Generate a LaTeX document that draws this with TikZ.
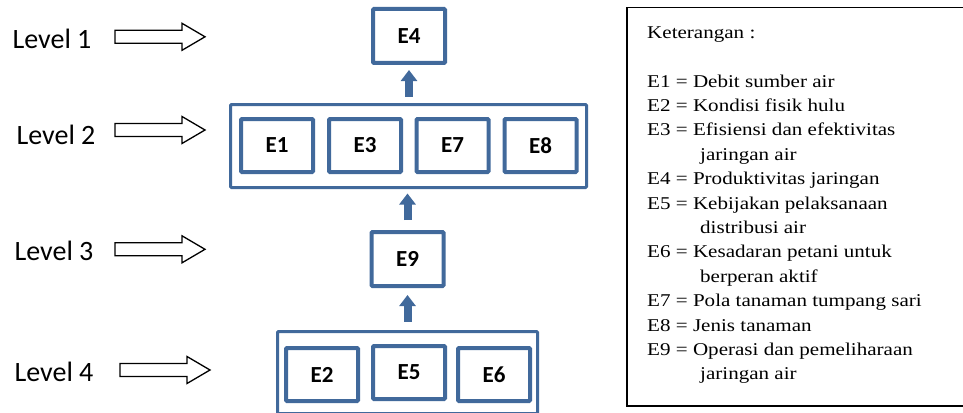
\documentclass[tikz,border=0pt]{standalone}
\usepackage{fontspec}
\setmainfont{Liberation Serif}
\newfontfamily\legfont[FakeStretch=1.17]{Liberation Serif}
\newfontfamily\calib{Carlito}
\usetikzlibrary{arrows.meta}
\definecolor{boxblue}{RGB}{65,105,155}
\tikzset{
  inbox/.style={draw=boxblue, line width=4pt, rounded corners=1pt, minimum width=72pt, minimum height=53pt, inner sep=0pt, font=\calib\bfseries\fontsize{23}{26}\selectfont},
  outbox/.style={draw=boxblue, line width=3pt, rounded corners=1pt, inner sep=0pt},
  lvl/.style={font=\calib\fontsize{28}{32}\selectfont, inner sep=0pt},
  hollow/.style={draw=black, line width=1.3pt, fill=white, line join=miter},
  uparrow/.style={draw=boxblue, line width=8pt, -{Triangle[length=11pt,width=16pt]}},
  legtxt/.style={anchor=base west, inner sep=0pt, font=\legfont\fontsize{18}{22}\selectfont}
}
\newcommand\hollowarrow[1]{%
  \draw[hollow] (#1) ++(0,-6.5) -- ++(67,0) -- ++(0,-7) -- ++(23,13.5) -- ++(-23,13.5) -- ++(0,-7) -- ++(-67,0) -- cycle;}
\begin{document}
\begin{tikzpicture}[x=1pt,y=-1pt]
\useasboundingbox (0,0) rectangle (963,412);
% level labels
\node[lvl] (l1) at (52,39) {Level 1};
\node[lvl] (l2) at (56,135) {Level 2};
\node[lvl] (l3) at (54,251) {Level 3};
\node[lvl] (l4) at (54,372) {Level 4};
\coordinate (a1) at (115,36.8);
\coordinate (a2) at (115,130);
\coordinate (a3) at (115,249.3);
\coordinate (a4) at (120,370);
\hollowarrow{a1}
\hollowarrow{a2}
\hollowarrow{a3}
\hollowarrow{a4}
% level 1
\node[inbox, minimum height=54pt] (e4) at (409,36) {E4};
% level 2
\node[outbox, minimum width=356pt, minimum height=83pt] (g2) at (408.5,146) {};
\node[inbox] (e1) at (277,145.5) {E1};
\node[inbox] (e3) at (365,145.5) {E3};
\node[inbox] (e7) at (452.5,145.5) {E7};
\node[inbox] (e8) at (540.5,145.5) {E8};
% level 3
\node[inbox, minimum height=54pt] (e9) at (407.5,259) {E9};
% level 4
\node[outbox, minimum width=260pt, minimum height=82pt] (g4) at (407.5,372.5) {};
\node[inbox] (e2) at (322,374.5) {E2};
\node[inbox] (e5) at (409,372.5) {E5};
\node[inbox] (e6) at (494,374.5) {E6};
% arrows (all pointing up)
\draw[uparrow, shorten <=6.5pt, shorten >=5pt] (g2.north -| e4.south) -- (e4.south);
\draw[uparrow, shorten <=10pt, shorten >=4.5pt] (e9.north) -- (e9.north |- g2.south);
\draw[uparrow, shorten <=8.5pt, shorten >=7pt] (e9.south |- g4.north) -- (e9.south);
% legend
\node[draw=black, line width=1.5pt, minimum width=344pt, minimum height=398pt, anchor=north west, inner sep=0pt] (leg) at (626,7) {};
\node[legtxt] (k0) at (647,38) {Keterangan :};
\node[legtxt] (k1) at (647,87) {E1 = Debit sumber air};
\node[legtxt] (k2) at (647,111.4) {E2 = Kondisi fisik hulu};
\node[legtxt] (k3) at (647,135.8) {E3 = Efisiensi dan efektivitas};
\node[legtxt] (k3b) at (700,160.2) {jaringan air};
\node[legtxt] (k4) at (647,184.6) {E4 = Produktivitas jaringan};
\node[legtxt] (k5) at (647,209) {E5 = Kebijakan pelaksanaan};
\node[legtxt] (k5b) at (700,233.4) {distribusi air};
\node[legtxt] (k6) at (647,257.8) {E6 = Kesadaran petani untuk};
\node[legtxt] (k6b) at (700,282.2) {berperan aktif};
\node[legtxt] (k7) at (647,306.6) {E7 = Pola tanaman tumpang sari};
\node[legtxt] (k8) at (647,331) {E8 = Jenis tanaman};
\node[legtxt] (k9) at (647,355.4) {E9 = Operasi dan pemeliharaan};
\node[legtxt] (k9b) at (700,379.8) {jaringan air};
\end{tikzpicture}
\end{document}
